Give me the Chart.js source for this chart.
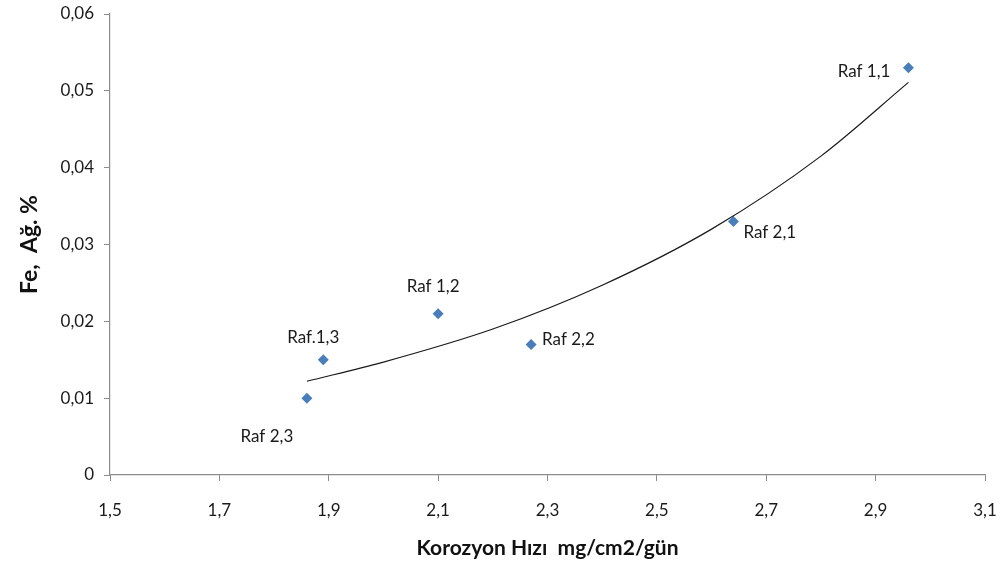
<!DOCTYPE html>
<html>
<head>
<meta charset="utf-8">
<script src="https://cdn.jsdelivr.net/npm/chart.js@4/dist/chart.umd.min.js"></script>
<style>
  html, body { margin: 0; padding: 0; background: #fff; overflow: hidden; }
  #wrap { width: 1004px; height: 565px; position: relative; }
</style>
</head>
<body>
<div id="wrap"><canvas id="feChart"></canvas></div>
<script>
// samples: corrosion rate (mg/cm2/gün) vs Fe weight %
const sampleNames = ['Raf 1,1', 'Raf 2,1', 'Raf 1,2', 'Raf 2,2', 'Raf.1,3', 'Raf 2,3'];
const corrosionRate = [2.96, 2.64, 2.10, 2.27, 1.89, 1.86];
const feWeight = [0.053, 0.033, 0.021, 0.017, 0.015, 0.010];

// exponential trendline
const trendX = [1.86, 2.0, 2.2, 2.4, 2.6, 2.8, 2.96];
const trendY = [0.0122, 0.0147, 0.0190, 0.0247, 0.0320, 0.0415, 0.0511];

const xTicks = [1.5, 1.7, 1.9, 2.1, 2.3, 2.5, 2.7, 2.9, 3.1];
const yTicks = [0, 0.01, 0.02, 0.03, 0.04, 0.05, 0.06];

// where each point label sits relative to its marker
const labelPlacement = [
    { dx: -18, dy: 4, align: 'right' },
    { dx: 10, dy: 11, align: 'left' },
    { dx: -5, dy: -27, align: 'center' },
    { dx: 11, dy: -5, align: 'left' },
    { dx: -10, dy: -22, align: 'center' },
    { dx: -40, dy: 38, align: 'center' }
];

const FONT = 'Lato, "Open Sans", sans-serif';
const AXIS_GRAY = '#8c8c8c';

const comma = (v, d) => v === 0 ? '0' : v.toFixed(d).replace('.', ',');

const pointLabels = {
    id: 'pointLabels',
    afterDatasetsDraw(chart) {
        const meta = chart.getDatasetMeta(1);
        const c = chart.ctx;
        c.save();
        c.font = '17px ' + FONT;
        c.fillStyle = '#1a1a1a';
        c.textBaseline = 'middle';
        meta.data.forEach((pt, i) => {
            const p = labelPlacement[i];
            c.textAlign = p.align;
            c.fillText(sampleNames[i], pt.x + p.dx, pt.y + p.dy);
        });
        c.restore();
    }
};

const ctx = document.getElementById('feChart').getContext('2d');
new Chart(ctx, {
    type: 'scatter',
    data: {
        datasets: [
            {
                type: 'line',
                label: 'Trend',
                data: trendX.map((x, i) => ({ x, y: trendY[i] })),
                borderColor: '#1a1a1a',
                borderWidth: 1.2,
                pointRadius: 0,
                fill: false,
                cubicInterpolationMode: 'monotone'
            },
            {
                label: 'Fe',
                data: corrosionRate.map((x, i) => ({ x, y: feWeight[i] })),
                pointStyle: 'rectRot',
                pointRadius: 5.5,
                backgroundColor: '#4a7ebb',
                borderColor: '#4a7ebb',
                borderWidth: 0
            }
        ]
    },
    options: {
        responsive: true,
        maintainAspectRatio: false,
        animation: false,
        layout: { padding: { top: 14, right: 19, left: 0, bottom: 0 } },
        plugins: {
            legend: { display: false },
            tooltip: { enabled: false }
        },
        scales: {
            x: {
                type: 'linear',
                min: 1.5,
                max: 3.1,
                afterBuildTicks: axis => { axis.ticks = xTicks.map(v => ({ value: v })); },
                afterFit: axis => {
                    axis.height = 90;
                    axis.paddingLeft = 0;
                    axis.paddingRight = 0;
                },
                ticks: {
                    padding: 19,
                    color: '#1a1a1a',
                    font: { family: FONT, size: 17 },
                    callback: v => comma(v, 1)
                },
                grid: { drawOnChartArea: false, tickLength: 6, color: AXIS_GRAY },
                border: { color: AXIS_GRAY, width: 1.2 },
                title: {
                    display: true,
                    text: 'Korozyon Hızı  mg/cm2/gün',
                    color: '#111',
                    font: { family: FONT, size: 21, weight: 'bold' },
                    padding: { top: 1 }
                }
            },
            y: {
                min: 0,
                max: 0.06,
                afterBuildTicks: axis => { axis.ticks = yTicks.map(v => ({ value: v })); },
                afterFit: axis => {
                    axis.width = 110;
                    axis.paddingTop = 0;
                    axis.paddingBottom = 0;
                },
                ticks: {
                    padding: 10,
                    color: '#1a1a1a',
                    font: { family: FONT, size: 17 },
                    callback: v => comma(v, 2)
                },
                grid: { drawOnChartArea: false, tickLength: 6, color: AXIS_GRAY },
                border: { color: AXIS_GRAY, width: 1.2 },
                title: {
                    display: true,
                    text: 'Fe,  Ağ. %',
                    color: '#111',
                    font: { family: FONT, size: 23, weight: 'bold' },
                    padding: { top: 16, bottom: 0 }
                }
            }
        }
    },
    plugins: [pointLabels]
});
</script>
</body>
</html>
